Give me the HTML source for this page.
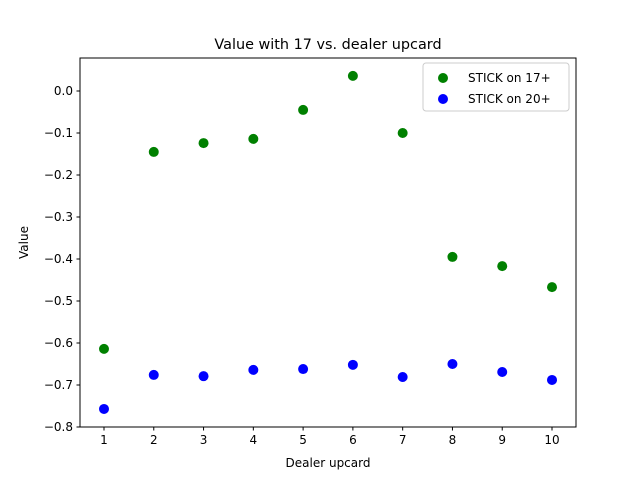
<!DOCTYPE html>
<html><head><meta charset="utf-8"><style>
body{margin:0;background:#fff;}
svg{display:block;font-family:"DejaVu Sans","Liberation Sans",sans-serif;}
</style></head><body>
<svg id="chart" width="640" height="480">
<rect width="640" height="480" fill="#fff"/>
<text x="328" y="49" font-size="14.4" text-anchor="middle">Value with 17 vs. dealer upcard</text>
<g id="plot"></g>
<rect x="80" y="58" width="496" height="369" fill="none" stroke="#000" stroke-width="1"/>
<text x="328" y="467" font-size="12" text-anchor="middle">Dealer upcard</text>
<text transform="translate(28,242.5) rotate(-90)" font-size="12" text-anchor="middle">Value</text>
<g>
<rect x="423" y="63" width="146" height="48" rx="3" fill="#fff" fill-opacity="0.8" stroke="#ccc"/>
<g><circle cx="443" cy="78" r="5" fill="green"/><text x="468" y="82" font-size="12">STICK on 17+</text></g>
<g><circle cx="443" cy="99" r="5" fill="blue"/><text x="468" y="103" font-size="12">STICK on 20+</text></g>
</g>
</svg>
<script>
const categories=[1,2,3,4,5,6,7,8,9,10];
const stick17=[-0.614,-0.145,-0.124,-0.114,-0.045,0.036,-0.100,-0.395,-0.417,-0.467];
const stick20=[-0.757,-0.676,-0.679,-0.664,-0.662,-0.652,-0.681,-0.650,-0.669,-0.688];
const yTicks=[0.0,-0.1,-0.2,-0.3,-0.4,-0.5,-0.6,-0.7,-0.8];
const xTicks=[1,2,3,4,5,6,7,8,9,10];
const NS="http://www.w3.org/2000/svg";
const L=80,R=576,T=58,B=427;
const xmin=0.518,xmax=10.482,ymin=-0.8,ymax=0.0786;
const xs=v=>L+(v-xmin)/(xmax-xmin)*(R-L);
const ys=v=>B-(v-ymin)/(ymax-ymin)*(B-T);
const g=document.getElementById('plot');
function mk(tag,attrs){const e=document.createElementNS(NS,tag);for(const k in attrs)e.setAttribute(k,attrs[k]);g.appendChild(e);return e;}
xTicks.forEach(t=>{
  const l=mk('line',{x1:xs(t),x2:xs(t),y1:B,y2:B+3.5,stroke:'#000'});
  
  
  const tx=mk('text',{x:xs(t),y:B+17,'font-size':12,'text-anchor':'middle'});tx.textContent=t;
  
  
});
yTicks.forEach(t=>{
  const l=mk('line',{x1:L-3.5,x2:L,y1:ys(t),y2:ys(t),stroke:'#000'});
  
  
  const tx=mk('text',{x:L-7,y:ys(t)+4,'font-size':12,'text-anchor':'end'});tx.textContent=t.toFixed(1).replace('-','\u2212');
  
  
});
categories.forEach((c,i)=>{
  const p=mk('circle',{cx:xs(c),cy:ys(stick17[i]),r:5,fill:'green'});
  
  
});
categories.forEach((c,i)=>{
  const p=mk('circle',{cx:xs(c),cy:ys(stick20[i]),r:5,fill:'blue'});
  
  
});
</script>
</body></html>
